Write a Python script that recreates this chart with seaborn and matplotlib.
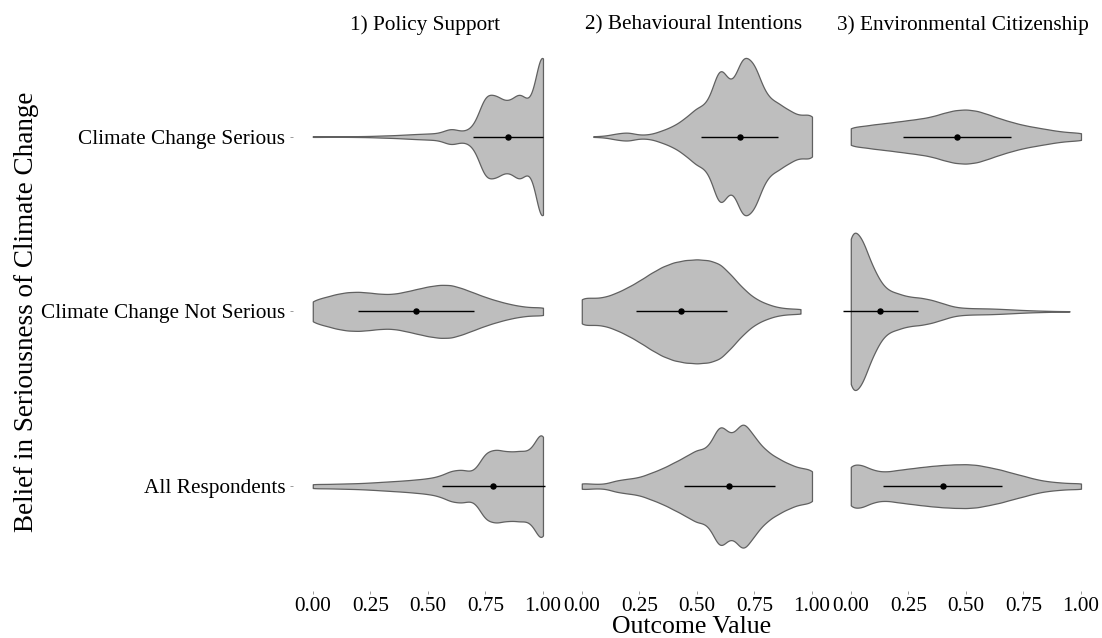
import numpy as np
import pandas as pd
import matplotlib
matplotlib.use("Agg")
import matplotlib.pyplot as plt
import seaborn as sns

# ---------------- data ----------------
outcomes = ["1) Policy Support", "2) Behavioural Intentions", "3) Environmental Citizenship"]
groups = ["Climate Change Serious", "Climate Change Not Serious", "All Respondents"]

# response levels of the (0-1 rescaled) outcome scores
score_levels = [0.00, 0.05, 0.10, 0.15, 0.20, 0.25, 0.30, 0.35, 0.40, 0.45, 0.50,
                0.55, 0.60, 0.65, 0.70, 0.75, 0.80, 0.85, 0.90, 0.95, 1.00]

# number of respondents at each level (estimated from the violin shapes)
ps_serious = [3, 2, 2, 2, 3, 4, 7, 9, 13, 17, 20, 23, 60, 30, 60, 300, 270, 220, 310, 180, 730]
ps_not     = [85, 105, 130, 145, 148, 140, 130, 130, 147, 167, 187, 200, 200, 173, 140, 107, 80, 57, 40, 30, 33]
ps_all     = [16, 15, 17, 19, 21, 25, 30, 35, 40, 47, 55, 70, 110, 120, 90, 250, 260, 240, 250, 240, 460]

bi_serious = [0, 2, 5, 20, 30, 10, 15, 40, 70, 120, 190, 210, 500, 300, 550, 480, 260, 220, 170, 130, 160]
bi_not     = [90, 80, 87, 113, 147, 187, 233, 273, 300, 313, 318, 313, 293, 220, 140, 80, 47, 25, 17, 16, 0]
bi_all     = [23, 15, 15, 40, 50, 60, 90, 120, 160, 200, 250, 250, 450, 320, 460, 330, 240, 190, 150, 120, 120]

ec_serious = [65, 70, 82, 90, 100, 110, 120, 133, 157, 177, 183, 173, 147, 120, 97, 77, 63, 50, 37, 29, 26]
ec_not     = [1240, 1000, 560, 300, 250, 200, 190, 160, 110, 60, 46, 42, 40, 34, 26, 18, 12, 8, 4, 3, 0]
ec_all     = [165, 150, 110, 100, 113, 123, 133, 142, 149, 153, 155, 150, 133, 117, 93, 73, 50, 35, 27, 21, 22]

# summary: mean and standard deviation per group (Serious, Not Serious, All)
ps_mean = [0.849, 0.449, 0.784]
ps_sd   = [0.152, 0.252, 0.224]
bi_mean = [0.687, 0.433, 0.641]
bi_sd   = [0.167, 0.199, 0.198]
ec_mean = [0.461, 0.129, 0.400]
ec_sd   = [0.236, 0.162, 0.259]

x_ticks = [0.00, 0.25, 0.50, 0.75, 1.00]
x_tick_labels = ["0.00", "0.25", "0.50", "0.75", "1.00"]

counts = {
    outcomes[0]: [ps_serious, ps_not, ps_all],
    outcomes[1]: [bi_serious, bi_not, bi_all],
    outcomes[2]: [ec_serious, ec_not, ec_all],
}
summaries = {
    outcomes[0]: (ps_mean, ps_sd),
    outcomes[1]: (bi_mean, bi_sd),
    outcomes[2]: (ec_mean, ec_sd),
}

rows = []
for outc in outcomes:
    for g, c in zip(groups, counts[outc]):
        vals = np.repeat(score_levels, c)
        rows.append(pd.DataFrame({"outcome": outc, "group": g, "value": vals}))
df = pd.concat(rows, ignore_index=True)


def bw(h):
    # constant absolute bandwidth h for gaussian_kde
    return lambda kde: h / np.std(kde.dataset, ddof=1)


# ---------------- style ----------------
sns.set_theme(style="white")
plt.rcParams["font.family"] = ["Liberation Serif", "DejaVu Serif"]

W, H = 1102, 638
fig = plt.figure(figsize=(W / 100, H / 100), dpi=100)
axes = fig.subplots(1, 3, sharey=True)
fig.subplots_adjust(left=293.2 / W, right=1094.8 / W, bottom=1 - 591 / H, top=1 - 31.7 / H,
                    wspace=0.0205)

# shared x range: data range incl. mean +/- sd, expanded by 5 %
lo = min(min(np.array(m) - np.array(s)) for m, s in summaries.values())
lo = min(lo, min(score_levels))
hi = max(max(np.array(m) + np.array(s)) for m, s in summaries.values())
hi = max(hi, max(score_levels))
pad = 0.05 * (hi - lo)

for ax, outc in zip(axes, outcomes):
    sub = df[df["outcome"] == outc]
    sns.violinplot(data=sub, x="value", y="group", order=groups, orient="h",
                   color="#bebebe", saturation=1, linecolor="#606060", linewidth=0.9,
                   inner=None, cut=0, density_norm="area", common_norm=True,
                   width=0.9, bw_method=bw(0.03), gridsize=300, ax=ax)
    m, s = summaries[outc]
    ypos = [groups.index(g) for g in groups]
    ax.errorbar(x=m, y=ypos, xerr=s, fmt="o", color="black", ms=3.6,
                elinewidth=1.0, capsize=0, zorder=5)
    ax.set_xlim(lo - pad, hi + pad)
    ax.set_ylim(len(groups) - 1 + 0.6, -0.6)
    ax.set_xticks(x_ticks)
    ax.set_xticklabels(x_tick_labels)
    ax.set_xlabel("")
    ax.set_ylabel("")
    for sp in ax.spines.values():
        sp.set_visible(False)
    ax.tick_params(axis="both", which="major", length=2.2, width=0.6, color="#8c8c8c",
                   labelsize=15.3, labelcolor="black")
    ax.tick_params(axis="x", pad=2.2, bottom=True)
    ax.tick_params(axis="y", pad=3.5, left=True)
    ax.set_title(outc, fontsize=15.3, pad=1.5, color="black")
    ax.grid(False)

for ax in axes[1:]:
    ax.tick_params(axis="y", left=False, labelleft=False)

fig.text(26.5 / W, 1 - 311.4 / H, "Belief in Seriousness of Climate Change",
         rotation=90, ha="center", va="center", fontsize=19.5, color="black")
fig.text(691.5 / W, 1 - 627 / H, "Outcome Value", ha="center", va="center",
         fontsize=18.5, color="black")

fig.savefig("out.png", dpi=100)
